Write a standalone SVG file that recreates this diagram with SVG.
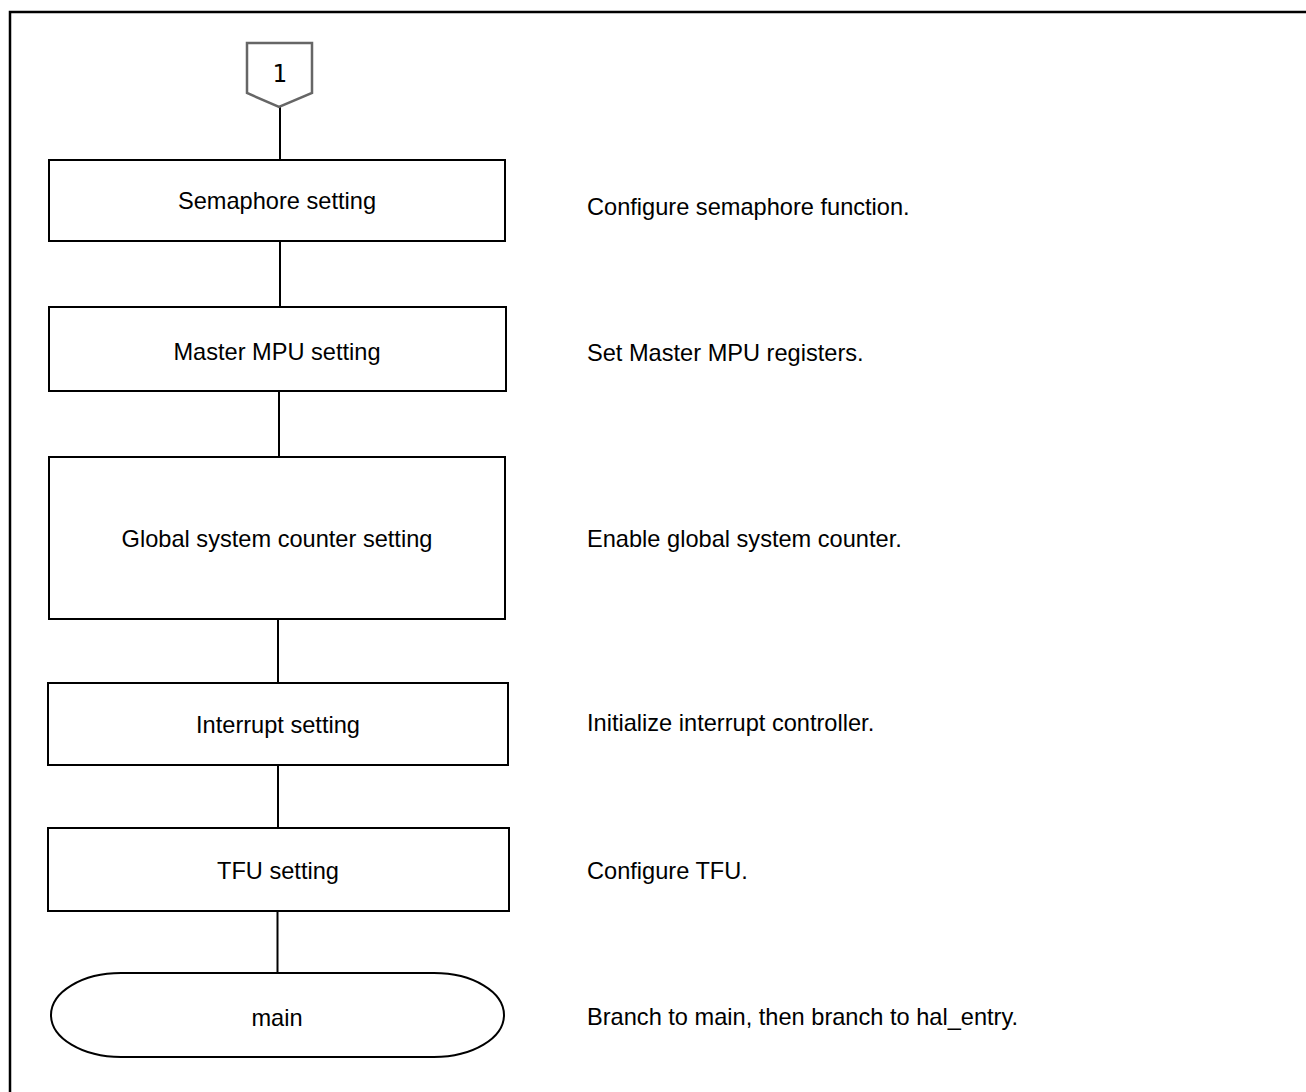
<svg xmlns="http://www.w3.org/2000/svg" width="1306" height="1092" viewBox="0 0 1306 1092">
<style>
.box{fill:#fff;stroke:#000;stroke-width:2}
.lbl{font-family:"Liberation Sans",Arial,sans-serif;font-size:23.6px;fill:#000}
.c{text-anchor:middle}
.conn line{stroke:#000;stroke-width:2}
</style>
<rect x="0" y="0" width="1306" height="1092" fill="#fff"/>
<rect id="frame" x="10" y="12" width="1320" height="1110" fill="none" stroke="#000" stroke-width="2.5"/>
<g class="conn" id="connectors">
<line x1="280" y1="107" x2="280" y2="160"/>
<line x1="280" y1="241" x2="280" y2="307"/>
<line x1="279" y1="391" x2="279" y2="457"/>
<line x1="278" y1="619" x2="278" y2="683"/>
<line x1="278" y1="765" x2="278" y2="828"/>
<line x1="277.5" y1="911" x2="277.5" y2="973"/>
</g>
<g id="offpage1">
<path d="M247,43 L312,43 L312,93 L279,107 L247,93 Z" fill="#fff" stroke="#666" stroke-width="2.5"/>
<text x="279.5" y="82" font-family="DejaVu Sans Mono,monospace" font-size="24" text-anchor="middle" fill="#000">1</text>
</g>
<g id="semaphore">
<rect class="box" x="49" y="160" width="456" height="81"/>
<text class="lbl c" x="277" y="209">Semaphore setting</text>
</g>
<g id="mpu">
<rect class="box" x="49" y="307" width="457" height="84"/>
<text class="lbl c" x="277" y="360">Master MPU setting</text>
</g>
<g id="gsc">
<rect class="box" x="49" y="457" width="456" height="162"/>
<text class="lbl c" x="277" y="547">Global system counter setting</text>
</g>
<g id="interrupt">
<rect class="box" x="48" y="683" width="460" height="82"/>
<text class="lbl c" x="278" y="733">Interrupt setting</text>
</g>
<g id="tfu">
<rect class="box" x="48" y="828" width="461" height="83"/>
<text class="lbl c" x="278" y="879">TFU setting</text>
</g>
<g id="main">
<rect class="box" x="51" y="973" width="453" height="84" rx="70" ry="42"/>
<text class="lbl c" x="277" y="1026">main</text>
</g>
<g id="notes">
<text class="lbl" x="587" y="215">Configure semaphore function.</text>
<text class="lbl" x="587" y="361">Set Master MPU registers.</text>
<text class="lbl" x="587" y="547">Enable global system counter.</text>
<text class="lbl" x="587" y="731">Initialize interrupt controller.</text>
<text class="lbl" x="587" y="879">Configure TFU.</text>
<text class="lbl" x="587" y="1025">Branch to main, then branch to hal_entry.</text>
</g>
</svg>
